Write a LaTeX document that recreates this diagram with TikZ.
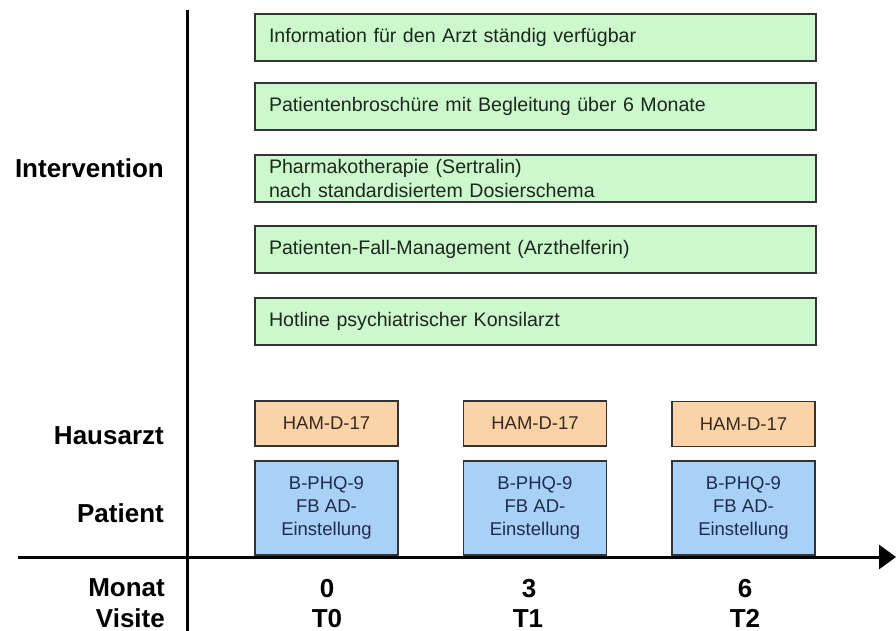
\documentclass[tikz,border=0pt]{standalone}
\usepackage{fontspec}
\setmainfont{Liberation Sans}
\usetikzlibrary{arrows.meta}
\definecolor{boxline}{HTML}{333333}
\definecolor{greenfill}{HTML}{CDF7CD}
\definecolor{greentext}{HTML}{1A2A1A}
\definecolor{orangefill}{HTML}{FBD3A8}
\definecolor{orangetext}{HTML}{3A2A1E}
\definecolor{bluefill}{HTML}{A9D1F8}
\definecolor{bluetext}{HTML}{1E2C50}
\begin{document}
\begin{tikzpicture}[x=1pt,y=-1pt,
  lbl/.style={font=\fontsize{26}{30}\selectfont\bfseries, text height=18.6pt, text depth=0pt, inner sep=0pt},
  interv/.style={draw=boxline, line width=1.4pt, fill=greenfill, text=greentext,
    minimum width=561pt, minimum height=47pt, text width=533pt, align=left,
    inner xsep=14pt, inner ysep=0pt, font=\fontsize{19.6}{23.5}\selectfont},
  ham/.style={draw=boxline, line width=1.4pt, fill=orangefill, text=orangetext,
    minimum width=143pt, minimum height=45pt, inner sep=0pt, font=\fontsize{18.5}{22}\selectfont},
  pat/.style={draw=boxline, line width=1.4pt, fill=bluefill, text=bluetext,
    minimum width=143pt, minimum height=94pt, inner sep=0pt, align=center,
    font=\fontsize{18.5}{22.8}\selectfont},
  axisline/.style={line width=3pt, black},
]
\useasboundingbox (0,0) rectangle (896,631);

% intervention boxes
\node[interv] (i1) at (535.5,37.5) {Information für den Arzt ständig verfügbar};
\node[interv] (i2) at (535.5,106.5) {Patientenbroschüre mit Begleitung über 6 Monate};
\node[interv] (i3) at (535.5,178.5) {Pharmakotherapie (Sertralin)\\nach standardisiertem Dosierschema};
\node[interv] (i4) at (535.5,249.5) {Patienten-Fall-Management (Arzthelferin)};
\node[interv] (i5) at (535.5,321.5) {Hotline psychiatrischer Konsilarzt};

% Hausarzt boxes
\node[ham] (h0) at (326.5,423.5) {HAM-D-17};
\node[ham] (h1) at (535,423.5) {HAM-D-17};
\node[ham] (h2) at (743.5,424) {HAM-D-17};

% Patient boxes
\node[pat] (p0) at (326.5,508) {B-PHQ-9\\FB AD-\\Einstellung};
\node[pat] (p1) at (535,508) {B-PHQ-9\\FB AD-\\Einstellung};
\node[pat] (p2) at (743.5,508) {B-PHQ-9\\FB AD-\\Einstellung};

% axes
\coordinate (vtop) at (187,10);
\coordinate (vbot) at (187,631);
\coordinate (hl) at (18,557);
\coordinate (hr) at (896,557);
\draw[axisline] (vtop) -- (vbot);
\draw[axisline, -{Triangle[length=17pt,width=24pt]}] (hl) -- (hr);

% row labels
\node[lbl, anchor=east] (lint) at (164,168) {Intervention};
\node[lbl, anchor=east] (lhaus) at (164,435) {Hausarzt};
\node[lbl, anchor=east] (lpat) at (164,513) {Patient};
\node[lbl, anchor=east] (lmon) at (165,587) {Monat};
\node[lbl, anchor=east] (lvis) at (165,618) {Visite};

% time labels
\node[lbl] (m0) at (327,588) {0};
\node[lbl] (t0) at (327,618) {T0};
\node[lbl] (m1) at (529,588) {3};
\node[lbl] (t1) at (528,618) {T1};
\node[lbl] (m2) at (745,588) {6};
\node[lbl] (t2) at (745,618) {T2};
\end{tikzpicture}
\end{document}
